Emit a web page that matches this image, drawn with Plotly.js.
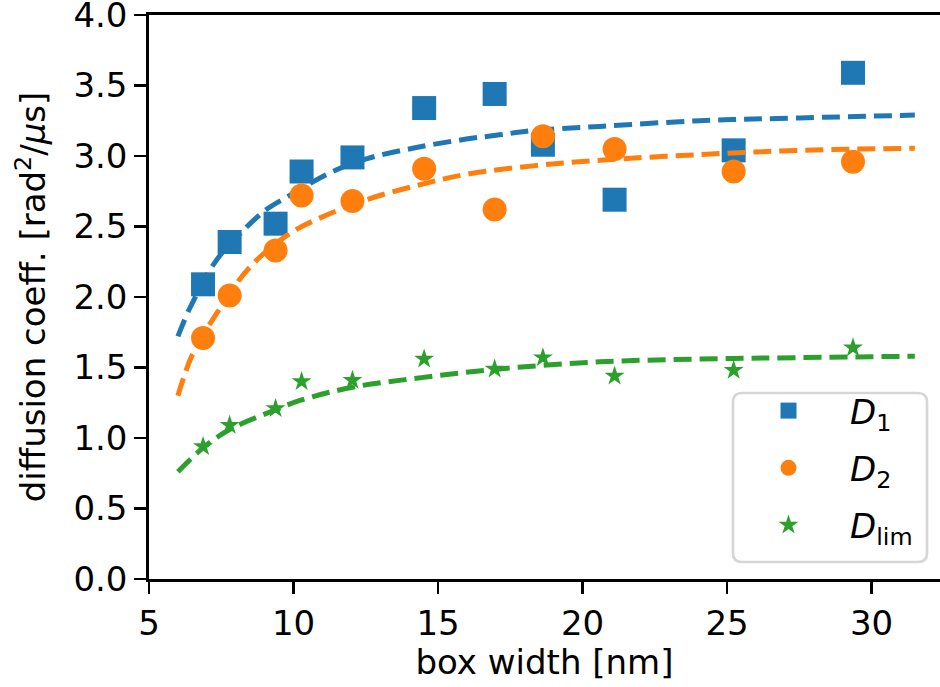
<!DOCTYPE html>
<html><head><meta charset="utf-8">
<script src="https://cdn.plot.ly/plotly-3.0.1.min.js"></script>
<style>html,body{margin:0;padding:0;background:#fff}#chart{width:940px;height:687px}</style>
</head><body><div id="chart"></div>
<script>
// measured data points
const boxWidth = [6.87, 7.79, 9.38, 10.28, 12.04, 14.52, 16.96, 18.63, 21.11, 25.23, 29.36];
const D1   = [2.09, 2.39, 2.52, 2.89, 2.99, 3.34, 3.44, 3.08, 2.69, 3.04, 3.59];
const D2   = [1.71, 2.01, 2.33, 2.72, 2.68, 2.91, 2.62, 3.14, 3.05, 2.89, 2.96];
const Dlim = [0.94, 1.09, 1.21, 1.40, 1.41, 1.56, 1.49, 1.57, 1.44, 1.48, 1.64];

// fitted curves
const fitX1 = [6.0, 6.41, 7.33, 8.25, 9.06, 9.87, 11.25, 12.52, 14.25, 15.98, 17.13, 18.29, 20.6, 24.05, 27.51, 31.5];
const fitD1 = [1.72, 1.92, 2.26, 2.47, 2.62, 2.72, 2.88, 2.98, 3.06, 3.12, 3.15, 3.18, 3.21, 3.25, 3.27, 3.29];
const fitX2 = [6.0, 6.52, 7.33, 8.48, 9.87, 11.02, 12.52, 14.25, 15.98, 18.29, 20.6, 24.05, 27.51, 31.5];
const fitD2 = [1.30, 1.60, 1.88, 2.21, 2.45, 2.57, 2.69, 2.79, 2.87, 2.93, 2.97, 3.01, 3.04, 3.055];
const fitXL = [6.0, 6.87, 7.79, 9.38, 10.28, 12.04, 14.5, 17.13, 20.59, 24.05, 27.51, 31.5];
const fitDL = [0.76, 0.93, 1.06, 1.20, 1.27, 1.36, 1.43, 1.49, 1.54, 1.56, 1.57, 1.58];

const xTicks = [5, 10, 15, 20, 25, 30];
const yTicks = [0, 0.5, 1, 1.5, 2, 2.5, 3, 3.5, 4];
const yTickText = ['0.0','0.5','1.0','1.5','2.0','2.5','3.0','3.5','4.0'];

const C1 = '#1f77b4', C2 = '#ff7f0e', C3 = '#2ca02c';
const FONT = 'DejaVu Sans, sans-serif';
const FS = 34;
const dashPat = '18px,8px';

const traces = [
  {type:'scatter', mode:'markers', x: boxWidth, y: D1, name: '<i>D</i><sub>1</sub>', legendgroup:'a',
   marker:{symbol:'square', size:24, color:C1, line:{width:0}}},
  {type:'scatter', mode:'lines', x: fitX1, y: fitD1, showlegend:false, legendgroup:'a',
   line:{color:C1, width:5, dash:dashPat, shape:'spline'}},
  {type:'scatter', mode:'markers', x: boxWidth, y: D2, name: '<i>D</i><sub>2</sub>', legendgroup:'b',
   marker:{symbol:'circle', size:24, color:C2, line:{width:0}}},
  {type:'scatter', mode:'lines', x: fitX2, y: fitD2, showlegend:false, legendgroup:'b',
   line:{color:C2, width:5, dash:dashPat, shape:'spline'}},
  {type:'scatter', mode:'markers', x: boxWidth, y: Dlim, name: '<i>D</i><sub>lim</sub>', legendgroup:'c',
   marker:{symbol:'star', size:15, color:C3, line:{width:0}}},
  {type:'scatter', mode:'lines', x: fitXL, y: fitDL, showlegend:false, legendgroup:'c',
   line:{color:C3, width:5, dash:dashPat, shape:'spline'}}
];

const L = 149, R = 940, T = 15, B = 579;
const px = v => (v - L) / (R - L);
const py = v => (B - v) / (B - T);
// rounded legend frame (pixel box 733..927 x 393..562)
function roundRect(x0, y0, x1, y1, r) {
  const rx = r / (R - L), ry = r / (B - T);
  const a = px(x0), b = px(x1), top = py(y0), bot = py(y1);
  return `M${a+rx},${top} L${b-rx},${top} Q${b},${top} ${b},${top-ry} L${b},${bot+ry} Q${b},${bot} ${b-rx},${bot} ` +
         `L${a+rx},${bot} Q${a},${bot} ${a},${bot+ry} L${a},${top-ry} Q${a},${top} ${a+rx},${top} Z`;
}

const layout = {
  width: 940, height: 687,
  margin: {l: L, r: 940 - R, t: T, b: 687 - B, pad: 0},
  paper_bgcolor: '#fff', plot_bgcolor: '#fff',
  font: {family: FONT, size: FS, color: '#000'},
  showlegend: true,
  xaxis: {
    range: [5, 5 + (R - L) / 28.9], tickvals: xTicks, ticktext: xTicks.map(String),
    ticks: 'outside', ticklen: 12, tickwidth: 2.7, tickcolor: '#000',
    showline: true, linecolor: '#000', linewidth: 2.7, mirror: true,
    showgrid: false, zeroline: false, ticklabeloverflow: 'allow',
    tickfont: {family: FONT, size: FS, color: '#000'},
    title: {text: 'box width [nm]', font: {family: FONT, size: FS, color: '#000'}, standoff: 6}
  },
  yaxis: {
    range: [0, 4], tickvals: yTicks, ticktext: yTickText,
    ticks: 'outside', ticklen: 12, tickwidth: 2.7, tickcolor: '#000',
    showline: true, linecolor: '#000', linewidth: 2.7, mirror: false,
    showgrid: false, zeroline: false, ticklabeloverflow: 'allow',
    tickfont: {family: FONT, size: FS, color: '#000'},
    title: {text: 'diffusion coeff. [rad<sup>2</sup>/<i>μ</i>s]', font: {family: FONT, size: FS, color: '#000'}, standoff: 18}
  },
  shapes: [{
    type: 'path', xref: 'paper', yref: 'paper', layer: 'above',
    path: roundRect(733, 393, 927, 562, 9),
    fillcolor: 'rgba(255,255,255,0.8)', line: {color: '#d6d6d6', width: 2.7}
  }],
  legend: {
    x: px(727), y: py(382), xanchor: 'left', yanchor: 'top',
    bgcolor: 'rgba(0,0,0,0)', borderwidth: 0,
    font: {family: FONT, size: FS, color: '#000'},
    itemwidth: 113, traceorder: 'grouped', tracegroupgap: 10, itemsizing: 'trace'
  }
};

Plotly.newPlot('chart', traces, layout, {staticPlot: true, displayModeBar: false});
</script>
</body></html>
